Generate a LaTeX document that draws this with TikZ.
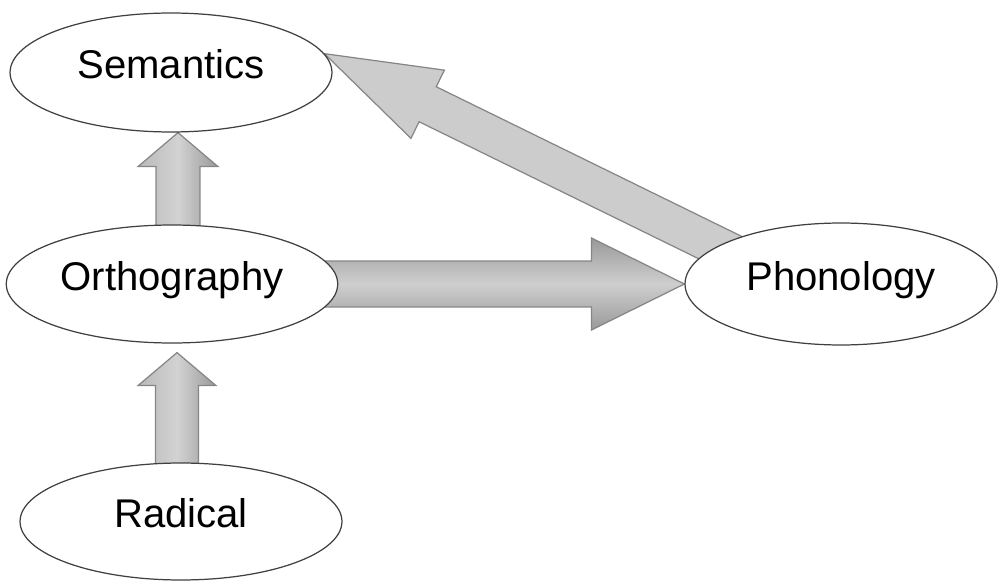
\documentclass[tikz,border=0pt]{standalone}
\usepackage{fontspec}
\setmainfont{Liberation Sans}
\usetikzlibrary{positioning,calc,backgrounds}
\usetikzlibrary{shapes.geometric}
\tikzstyle{concept} = [ellipse, draw=black!75, line width=0.7pt, fill=white, font=\fontsize{22.8}{26}\selectfont, text height=16.3pt, text depth=9pt]
\tikzstyle{fat arrow} = [draw=gray!95, line width=0.7pt, line join=miter]
\tikzstyle{up shade} = [left color=gray!55, right color=gray!80, middle color=gray!35]
\tikzstyle{across shade} = [top color=gray!80, bottom color=gray!80, middle color=gray!38]
% thick block arrow: [style]{from}{to}{shaft half width}{head half width}{head length}
\newcommand{\fatarrow}[6][]{%
  \path ($(#3)!#6!(#2)$) coordinate (fa-base);
  \path[fat arrow, #1] ($(#2)!#4!90:(#3)$) -- ($(fa-base)!#4!90:(#3)$) -- ($(fa-base)!#5!90:(#3)$)
    -- (#3) -- ($(fa-base)!#5!-90:(#3)$) -- ($(fa-base)!#4!-90:(#3)$) -- ($(#2)!#4!-90:(#3)$) -- cycle;
}

\begin{document}
\begin{tikzpicture}[x=0.02cm, y=-0.02cm]
        \useasboundingbox (0,0) rectangle (998,581);
        \node[concept, minimum width=6.44cm, minimum height=2.38cm] (semantics) at (171,72.5) {Semantics};
        \node[concept, minimum width=6.44cm, minimum height=2.36cm] (orthography) at (172,284) {Orthography};
        \node[concept, minimum width=6.24cm, minimum height=2.44cm] (phonology) at (841,284) {Phonology};
        \node[concept, minimum width=6.44cm, minimum height=2.34cm] (radical) at (181,521.5) {Radical};

        \begin{scope}[on background layer]
        \fatarrow[up shade]{$(orthography.north)+(6,10)$}{$(semantics.south)+(7,0)$}{0.44cm}{0.8cm}{0.68cm}
        \fatarrow[up shade]{$(radical.north)+(-4,10)$}{$(orthography.south)+(5,9)$}{0.43cm}{0.78cm}{0.66cm}
        \fatarrow[across shade]{orthography.center}{phonology.west}{0.46cm}{0.92cm}{1.86cm}
        \fatarrow[fill=gray!40]{$(semantics.7)!1.15!(phonology.163)$}{semantics.7}{0.39cm}{0.76cm}{2.3cm}
        \end{scope}
    \end{tikzpicture}
\end{document}
